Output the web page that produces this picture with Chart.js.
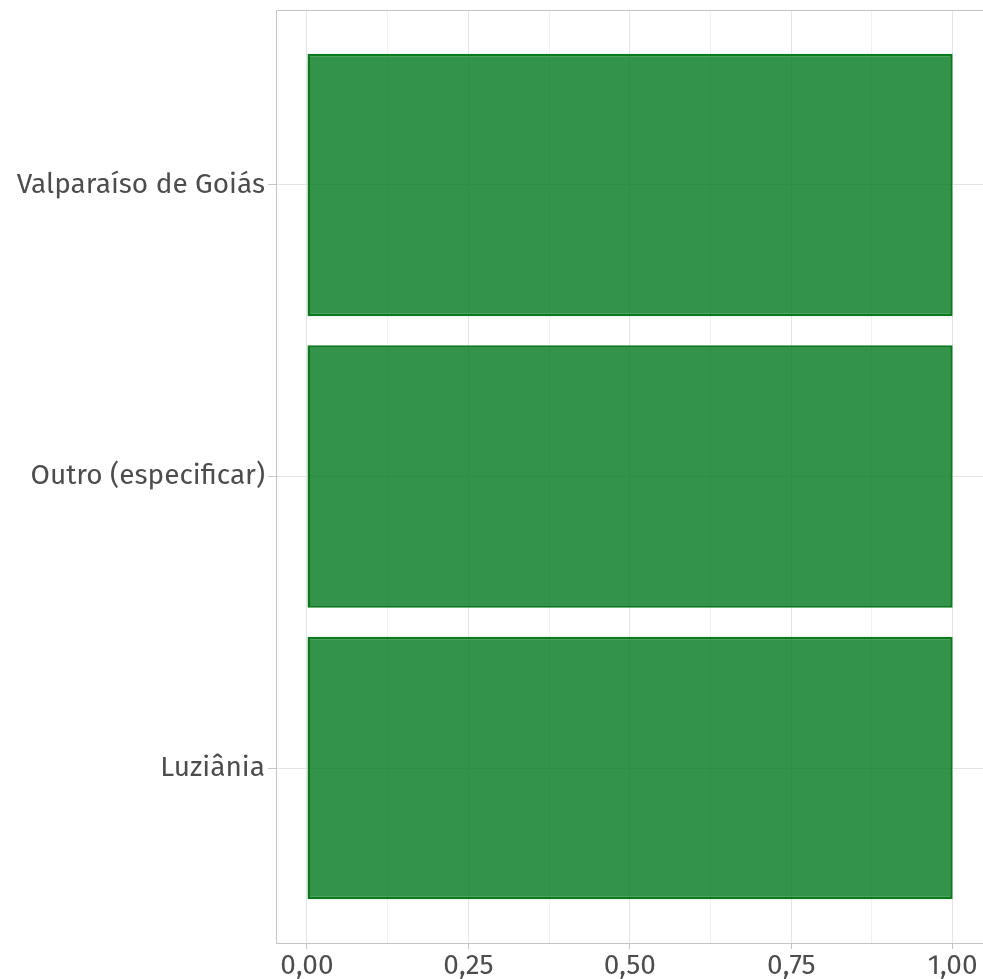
<!DOCTYPE html>
<html>
<head>
<meta charset="utf-8">
<script src="https://cdn.jsdelivr.net/npm/chart.js@4"></script>
<style>
  html, body { margin: 0; padding: 0; background: #fff; }
  #wrap { width: 983px; height: 979px; }
</style>
</head>
<body>
<div id="wrap"><canvas id="barChart" width="983" height="979"></canvas></div>
<script>
const categories = ['Luziânia', 'Outro (especificar)', 'Valparaíso de Goiás'];
const values = [1, 1, 1];
const xTicks = [0, 0.25, 0.5, 0.75, 1];
const xMinorTicks = [0.125, 0.375, 0.625, 0.875];

const fmt = v => v.toFixed(2).replace('.', ',');
const isMajor = v => xTicks.some(t => Math.abs(t - v) < 1e-9);

// box around the panel, like the ggplot border
const panelBorder = {
  id: 'panelBorder',
  afterDraw(chart) {
    const a = chart.chartArea, c = chart.ctx;
    c.save();
    c.strokeStyle = '#c4c4c4';
    c.lineWidth = 1;
    c.strokeRect(a.left + 0.5, a.top + 0.5, a.right - a.left, a.bottom - a.top);
    c.restore();
  }
};

const ctx = document.getElementById('barChart').getContext('2d');
new Chart(ctx, {
  type: 'bar',
  data: {
    datasets: [{
      data: categories.map((c, i) => ({ x: values[i], y: i })),
      backgroundColor: 'rgba(0,120,30,0.8)',
      borderColor: '#0b7a1f',
      borderWidth: 2.5,
      borderSkipped: false,
      barPercentage: 0.9,
      categoryPercentage: 1
    }]
  },
  plugins: [panelBorder],
  options: {
    indexAxis: 'y',
    responsive: false,
    animation: false,
    layout: { padding: { top: 10, right: 0, left: 0, bottom: 0 } },
    plugins: { legend: { display: false }, tooltip: { enabled: false } },
    scales: {
      x: {
        type: 'linear',
        min: -0.048,
        max: 1.047,
        afterBuildTicks: s => { s.ticks = xTicks.concat(xMinorTicks).sort((a, b) => a - b).map(v => ({ value: v })); },
        afterFit: s => { s.height = 36; },
        ticks: {
          autoSkip: false,
          maxRotation: 0,
          padding: 0,
          color: '#4d4d4d',
          font: { family: '"Fira Sans", "Open Sans", sans-serif', size: 28 },
          callback: v => isMajor(v) ? fmt(v) : ''
        },
        grid: {
          color: c => isMajor(c.tick.value) ? '#e4e4e4' : '#f0f0f0',
          tickColor: c => isMajor(c.tick.value) ? '#c4c4c4' : 'rgba(0,0,0,0)',
          tickLength: 6,
          lineWidth: 1
        },
        border: { color: '#c4c4c4' }
      },
      y: {
        type: 'linear',
        offset: false,
        min: -0.6,
        max: 2.6,
        afterBuildTicks: s => { s.ticks = categories.map((c, i) => ({ value: i })); },
        afterFit: s => { s.width = 276; s.paddingTop = 0; s.paddingBottom = 0; },
        ticks: {
          padding: 3,
          color: '#4d4d4d',
          font: { family: '"Fira Sans", "Open Sans", sans-serif', size: 28 },
          callback: v => categories[v]
        },
        grid: {
          offset: false,
          color: '#e4e4e4',
          tickColor: '#c4c4c4',
          tickLength: 8
        },
        border: { color: '#c4c4c4' }
      }
    }
  }
});
</script>
</body>
</html>
